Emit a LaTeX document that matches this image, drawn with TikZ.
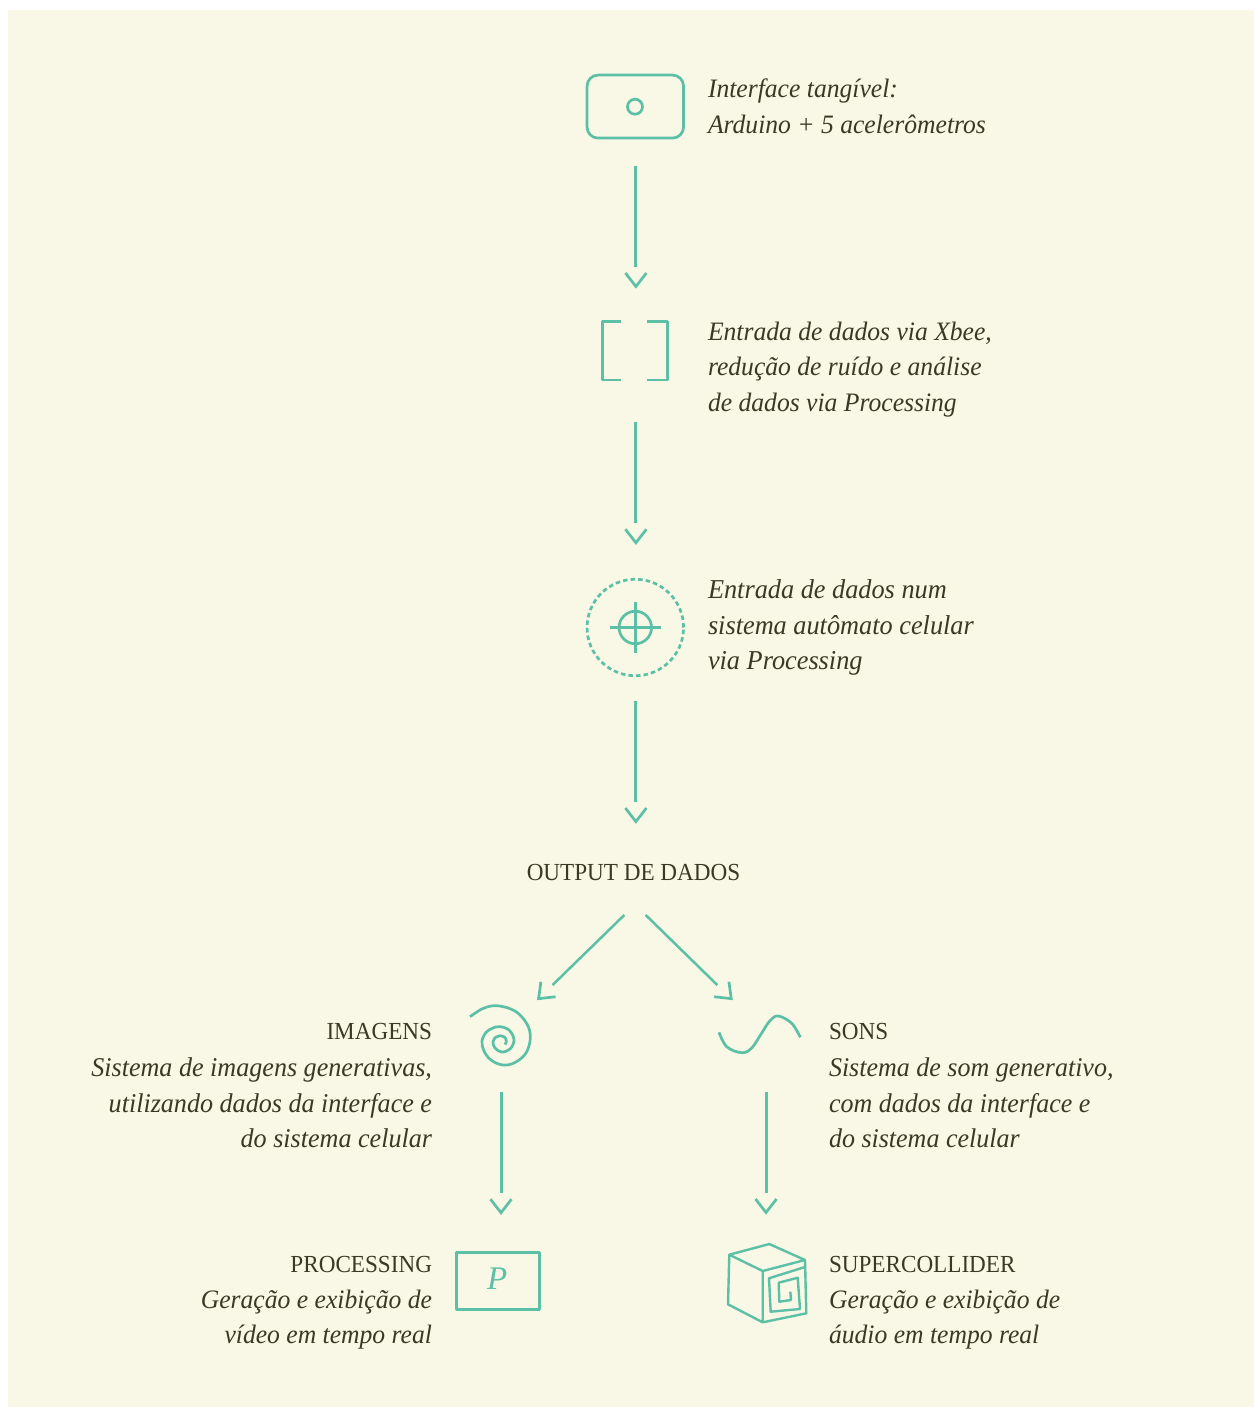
\documentclass[tikz,border=0pt]{standalone}
\usepackage{fontspec}
\setmainfont{Liberation Serif}
\newfontfamily\notefont[FakeStretch=0.963,ItalicFeatures={FakeStretch=0.963}]{Liberation Serif}
\newfontfamily\captfont[FakeStretch=0.945]{Liberation Serif}
\usetikzlibrary{arrows.meta}
\definecolor{paper}{HTML}{F9F7E6}
\definecolor{mint}{HTML}{5BC0A6}
\definecolor{ink}{HTML}{3A3A24}
\pgfdeclarearrow{
  name=GapChevron,
  setup code={
    \pgfarrowssettipend{0pt}
    \pgfarrowssetbackend{-14pt}
    \pgfarrowssetlineend{-21pt}
    \pgfarrowssetvisualbackend{-21pt}
    \pgfarrowshullpoint{0pt}{0pt}
    \pgfarrowshullpoint{-14pt}{10.5pt}
    \pgfarrowshullpoint{-14pt}{-10.5pt}
  },
  drawing code={
    \pgfsetlinewidth{2.7pt}
    \pgfsetbuttcap
    \pgfsetmiterjoin
    \pgfpathmoveto{\pgfpoint{-15pt}{10.5pt}}
    \pgfpathlineto{\pgfpoint{-1.5pt}{0pt}}
    \pgfpathlineto{\pgfpoint{-15pt}{-10.5pt}}
    \pgfusepathqstroke
  },
  defaults={}
}
\tikzset{
  icon/.style={draw=mint,line width=2.7pt,line join=round},
  iconbox/.style={icon,inner sep=0pt,outer sep=0pt},
  ghost/.style={inner sep=0pt,outer sep=0pt},
  flow/.style={draw=mint,line width=3pt,-{GapChevron}},
  diag/.style={flow,line width=2.5pt},
  note/.style={text=ink,font=\notefont\fontsize{#1}{35.3}\selectfont\itshape,inner sep=0pt,outer sep=0pt},
  rnote/.style={note=#1,align=right,anchor=north east},
  lnote/.style={note=#1,align=left,anchor=north west},
  capt/.style={text=ink,font=\captfont\fontsize{24.5}{30}\selectfont,inner sep=0pt,outer sep=0pt}
}
\begin{document}
\begin{tikzpicture}[x=1pt,y=-1pt]
\useasboundingbox (0,0) rectangle (1254,1407);
\fill[white] (0,0) rectangle (1254,1407);
\fill[paper] (8,10) rectangle (1254,1407);
% icons
\node[iconbox,rounded corners=11pt,minimum width=96.5pt,minimum height=63pt] (device) at (635.3,106.6) {};
\node[iconbox,circle,minimum size=15pt] (dot) at (635,106.7) {};
\node[ghost,minimum width=66pt,minimum height=59pt] (bracket) at (635.9,350.5) {};
\draw[icon,line cap=butt] (621,321.2) -- (602.2,321.2) -- (602.2,380) -- (621,380);
\draw[icon,line cap=butt] (647,321.2) -- (667.7,321.2) -- (667.7,380) -- (647,380);
\node[iconbox,circle,minimum size=96.5pt,dash pattern=on 4.5pt off 3.1pt] (cell) at (635.3,627.5) {};
\node[iconbox,circle,minimum size=32.5pt] (target) at (635.3,627.5) {};
\draw[icon,line width=3pt] (610,627.5) -- (661,627.5) (635.3,602) -- (635.3,653);
\node[capt,anchor=base] (output) at (633.5,880.3) {OUTPUT DE DADOS};
\coordinate (outL) at (624.3,915);
\coordinate (outR) at (645.7,915);
\coordinate (tipL) at (537.5,999.7);
\coordinate (tipR) at (732.3,999.7);
\draw[icon] plot[smooth,tension=.6] coordinates {(470,1016.7) (483,1008.5) (497,1005.7) (515,1011) (527,1024) (530.3,1038) (526,1053) (515,1062.5) (503,1065) (491,1060) (484,1051) (482,1041) (487,1031.5) (498,1026.7) (509,1030) (514,1040) (510,1049) (501.7,1052) (495,1048) (493,1041.7) (496,1037) (500,1035.7) (505,1037.5) (506.3,1041.7) (505,1044.5)};
\node[ghost,minimum width=62pt,minimum height=60pt] (spiral) at (501,1035) {};
\draw[icon] plot[smooth,tension=.6] coordinates {(719,1032.3) (726.7,1046.7) (741.7,1052.7) (751.7,1048) (761.7,1033) (770,1020.7) (778.3,1016) (791.7,1023.3) (800.3,1037.3)};
\node[ghost,minimum width=82pt,minimum height=37pt] (wave) at (766,1034) {};
\node[iconbox,minimum width=83pt,minimum height=57pt] (proc) at (497.7,1280.7) {};
\node[text=mint,font=\fontsize{33}{33}\selectfont\itshape,inner sep=0pt] (plabel) at (497.3,1279) {P};
\draw[icon,line width=2.4pt] (729.3,1254.7) -- (769.3,1244) -- (805,1260) -- (762.7,1271) -- cycle
  (729.3,1254.7) -- (728,1304.3) -- (762.7,1322.3) -- (762.7,1271)
  (762.7,1322.3) -- (806.3,1313.3) -- (805,1260)
  (804,1267.3) -- (769,1278.3) -- (770.7,1311.7) -- (800,1309) -- (797.7,1277.7) -- (778.7,1282.7) -- (779.3,1301.7) -- (791,1300) -- (790.3,1291.7);
\node[ghost,minimum width=78pt,minimum height=78pt] (cube) at (767,1283) {};
% connectors
\draw[flow,shorten <=28pt,shorten >=33pt] (device.south -| bracket.north) -- (bracket.north);
\draw[flow,shorten <=42pt,shorten >=35pt] (bracket.south) -- (bracket.south |- cell.north);
\draw[flow,shorten <=25pt,shorten >=41pt] (cell.south -| bracket.south) -- (output.north -| bracket.south);
\draw[diag] (outL) -- (tipL);
\draw[diag] (outR) -- (tipR);
\draw[flow,shorten <=27pt,shorten >=38pt] (spiral.south) -- (spiral.south |- proc.north);
\draw[flow,shorten <=39.5pt,shorten >=30pt] (wave.south) -- (wave.south |- cube.north);
% texts
\node[lnote=26.6] (t1) at (708,79.2) {Interface tangível:\\Arduino + 5 acelerômetros};
\node[lnote=26.6] (t2) at (708,322.2) {Entrada de dados via Xbee,\\redução de ruído e análise\\de dados via Processing};
\node[lnote=27.3] (t3) at (708,580) {Entrada de dados num\\sistema autômato celular\\via Processing};
\node[capt,anchor=base east] (imgh) at (432,1039.3) {IMAGENS};
\node[rnote=27.1] (imgt) at (432,1058) {Sistema de imagens generativas,\\utilizando dados da interface e\\do sistema celular};
\node[capt,anchor=base west] (sonh) at (829,1039.3) {SONS};
\node[lnote=27] (sont) at (829,1058) {Sistema de som generativo,\\com dados da interface e\\do sistema celular};
\node[capt,anchor=base east] (proch) at (432,1272.3) {PROCESSING};
\node[rnote=26.6] (proct) at (432,1290.2) {Geração e exibição de\\vídeo em tempo real};
\node[capt,anchor=base west] (supeh) at (829,1272.3) {SUPERCOLLIDER};
\node[lnote=26.6] (supet) at (829,1290.2) {Geração e exibição de\\áudio em tempo real};
\end{tikzpicture}
\end{document}
